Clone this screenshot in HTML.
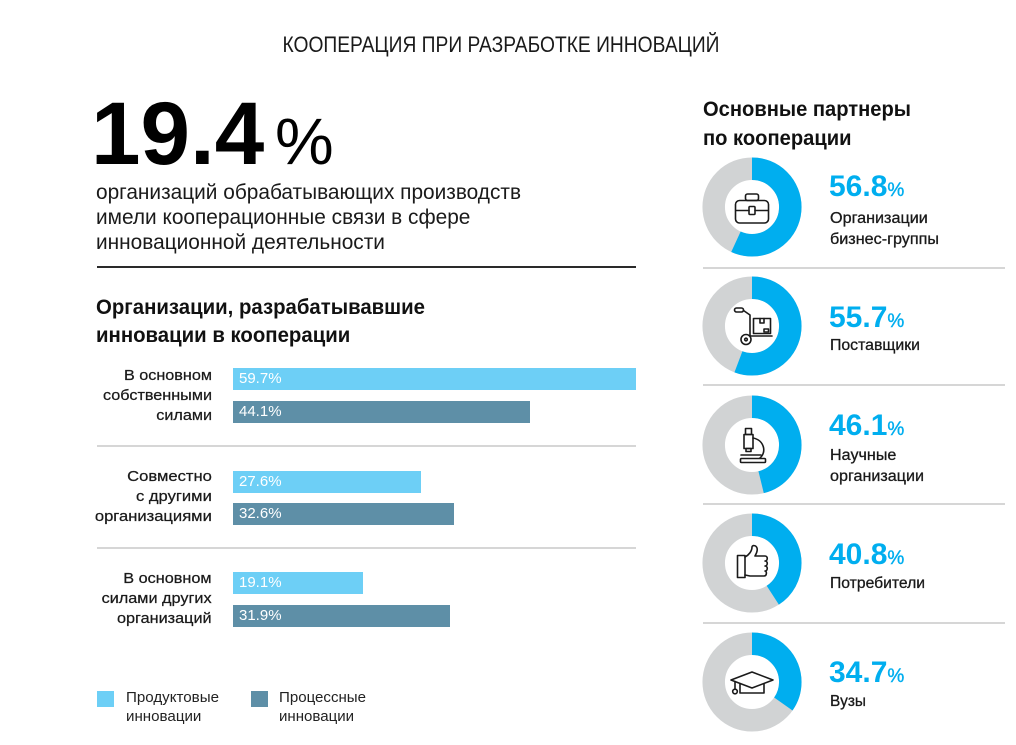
<!DOCTYPE html>
<html><head><meta charset="utf-8">
<style>
html,body{margin:0;padding:0;background:#fff;}
body{width:1016px;height:745px;position:relative;overflow:hidden;font-family:"Liberation Sans","DejaVu Sans",sans-serif;color:#1a1a1a;}
.a{position:absolute;white-space:nowrap;}
.fit{transform-origin:left center;}
.r{text-align:right;}
.r.fit{transform-origin:right center;}
.bar{position:absolute;left:233px;height:22px;line-height:22px;color:#fff;font-size:15px;padding-left:6px;box-sizing:border-box;white-space:nowrap;}
.lt{background:#6dcff6;}
.dk{background:#5e8fa7;}
.gl{font-size:15px;line-height:20px;right:804px;-webkit-text-stroke:0.25px #1a1a1a;}
.num{font-size:30px;font-weight:bold;color:#00aeef;line-height:30px;left:829px;}
.num span{font-size:19px;font-weight:normal;-webkit-text-stroke:0.4px #00aeef;}
.lab{font-size:15.5px;line-height:21px;left:830px;color:#1a1a1a;-webkit-text-stroke:0.3px #1a1a1a;}
.leg{font-size:15px;line-height:19px;color:#222;}
</style></head>
<body>

<!-- Title -->
<div class="a" style="left:-7px;top:34px;width:1016px;text-align:center;font-size:22px;line-height:22px;">
<span class="fit" style="display:inline-block;transform-origin:center center;--w:437px;">КООПЕРАЦИЯ ПРИ РАЗРАБОТКЕ ИННОВАЦИЙ</span>
</div>

<!-- Big number -->
<div class="a" style="left:91px;top:89px;font-size:89px;line-height:89px;font-weight:bold;color:#000;">19.4</div>
<div class="a" style="left:275px;top:108px;font-size:66px;line-height:66px;color:#000;">%</div>

<div class="a fit" style="left:96px;top:180px;font-size:21px;line-height:25px;--w:425px;">организаций обрабатывающих производств<br>имели кооперационные связи в сфере<br>инновационной деятельности</div>

<div class="a" style="left:97px;top:266px;width:539px;height:2px;background:#2a2a2a;"></div>

<!-- Left heading -->
<div class="a fit" style="left:96px;top:294px;font-size:21px;line-height:28px;font-weight:bold;color:#111;--w:329px;">Организации, разрабатывавшие<br>инновации в кооперации</div>

<!-- Group labels -->
<div class="a gl r fit" style="top:366px;--w:109px;">В основном<br>собственными<br>силами</div>
<div class="a gl r fit" style="top:467px;--w:117px;">Совместно<br>с другими<br>организациями</div>
<div class="a gl r fit" style="top:569px;--w:110px;">В основном<br>силами других<br>организаций</div>

<!-- Bars -->
<div class="bar lt" style="top:368px;width:403px;">59.7%</div>
<div class="bar dk" style="top:401px;width:297px;">44.1%</div>
<div class="a" style="left:97px;top:445px;width:539px;height:2px;background:#d6d6d6;"></div>
<div class="bar lt" style="top:471px;width:188px;">27.6%</div>
<div class="bar dk" style="top:503px;width:221px;">32.6%</div>
<div class="a" style="left:97px;top:547px;width:539px;height:2px;background:#d6d6d6;"></div>
<div class="bar lt" style="top:572px;width:130px;">19.1%</div>
<div class="bar dk" style="top:605px;width:217px;">31.9%</div>

<!-- Legend -->
<div class="a" style="left:97px;top:691px;width:17px;height:16px;background:#6dcff6;"></div>
<div class="a leg fit" style="left:126px;top:688px;--w:93px;">Продуктовые<br>инновации</div>
<div class="a" style="left:251px;top:691px;width:17px;height:16px;background:#5e8fa7;"></div>
<div class="a leg fit" style="left:279px;top:688px;--w:87px;">Процессные<br>инновации</div>

<!-- Right heading -->
<div class="a fit" style="left:703px;top:95px;font-size:21px;line-height:29px;font-weight:bold;color:#111;--w:208px;">Основные партнеры<br>по кооперации</div>

<svg class="a" style="left:0;top:0;" width="1016" height="745" viewBox="0 0 1016 745">
 <g stroke="#d6d6d6" stroke-width="2">
  <line x1="703" y1="268" x2="1005" y2="268"/>
  <line x1="703" y1="385" x2="1005" y2="385"/>
  <line x1="703" y1="504" x2="1005" y2="504"/>
  <line x1="703" y1="623" x2="1005" y2="623"/>
 </g>
 <g fill="none" stroke-width="22.5">
  <circle cx="752" cy="207" r="38.3" stroke="#d1d3d4"/>
  <circle cx="752" cy="207" r="38.3" stroke="#00aeef" stroke-dasharray="136.7 300" transform="rotate(-90 752 207)"/>
  <circle cx="752" cy="326" r="38.3" stroke="#d1d3d4"/>
  <circle cx="752" cy="326" r="38.3" stroke="#00aeef" stroke-dasharray="134.0 300" transform="rotate(-90 752 326)"/>
  <circle cx="752" cy="445" r="38.3" stroke="#d1d3d4"/>
  <circle cx="752" cy="445" r="38.3" stroke="#00aeef" stroke-dasharray="110.9 300" transform="rotate(-90 752 445)"/>
  <circle cx="752" cy="563" r="38.3" stroke="#d1d3d4"/>
  <circle cx="752" cy="563" r="38.3" stroke="#00aeef" stroke-dasharray="98.2 300" transform="rotate(-90 752 563)"/>
  <circle cx="752" cy="682" r="38.3" stroke="#d1d3d4"/>
  <circle cx="752" cy="682" r="38.3" stroke="#00aeef" stroke-dasharray="83.5 300" transform="rotate(-90 752 682)"/>
 </g>
 <g fill="none" stroke="#1a1a1a" stroke-width="1.6" stroke-linejoin="round" stroke-linecap="round">
  <!-- briefcase -->
  <rect x="745.5" y="194" width="13" height="6.5" rx="2"/>
  <rect x="735.5" y="200.5" width="33" height="22.5" rx="4"/>
  <path d="M736 210.5 H749 M755 210.5 H768"/>
  <rect x="749" y="206.5" width="6" height="8" rx="1"/>
  <!-- hand truck -->
  <rect x="734.5" y="308" width="9" height="4" rx="2"/>
  <path d="M743.5 310.5 L750 315 V336 H772"/>
  <circle cx="746" cy="339.5" r="5"/>
  <circle cx="746" cy="339.5" r="1.3"/>
  <rect x="753.5" y="318.5" width="17" height="15"/>
  <path d="M760 318.5 V323 H764 V318.5"/>
  <rect x="764" y="329" width="4.5" height="3"/>
  <!-- microscope -->
  <rect x="745.5" y="428.5" width="6" height="6"/>
  <rect x="744" y="434.5" width="9" height="14"/>
  <rect x="746" y="448.5" width="5" height="3"/>
  <path d="M753 438 C764 440 767 452 760 458"/>
  <path d="M741 455 H761"/>
  <rect x="740.5" y="458.5" width="25" height="4" rx="1"/>
  <!-- thumbs up -->
  <rect x="737.5" y="555.5" width="7.5" height="22"/>
  <path d="M745 557 C749 555 752 551 752 547 C752 545 756 545 757 548 C758 551 756 554 755 556 H765 C768 556 768 561 765 561 C768 561 768 566 765 566 C768 566 768 571 765 571 C767 571 767 576 764 576 H750 L745 575"/>
  <!-- grad cap -->
  <path d="M731 680 L752 672 L773 680 L752 688 Z"/>
  <path d="M740 684 V693 H764 V684"/>
  <path d="M735 681.5 V689"/>
  <circle cx="735" cy="691.5" r="2.3"/>
 </g>
</svg>

<!-- Right values -->
<div class="a num" style="top:172px;">56.8<span>%</span></div>
<div class="a lab fit" style="top:208px;--w:109px;">Организации<br>бизнес-группы</div>

<div class="a num" style="top:303px;">55.7<span>%</span></div>
<div class="a lab fit" style="top:335px;--w:90px;">Поставщики</div>

<div class="a num" style="top:411px;">46.1<span>%</span></div>
<div class="a lab fit" style="top:445px;--w:94px;">Научные<br>организации</div>

<div class="a num" style="top:540px;">40.8<span>%</span></div>
<div class="a lab fit" style="top:573px;--w:95px;">Потребители</div>

<div class="a num" style="top:658px;">34.7<span>%</span></div>
<div class="a lab fit" style="top:691px;--w:36px;">Вузы</div>

<script>
(function(){
var els=document.querySelectorAll('.fit');
for(var i=0;i<els.length;i++){
 var e=els[i];
 var w=parseFloat(e.style.getPropertyValue('--w'));
 var n=e.getBoundingClientRect().width;
 if(n>0&&w>0){e.style.transform='scaleX('+(w/n).toFixed(4)+')';}
}
})();
</script>
</body></html>
